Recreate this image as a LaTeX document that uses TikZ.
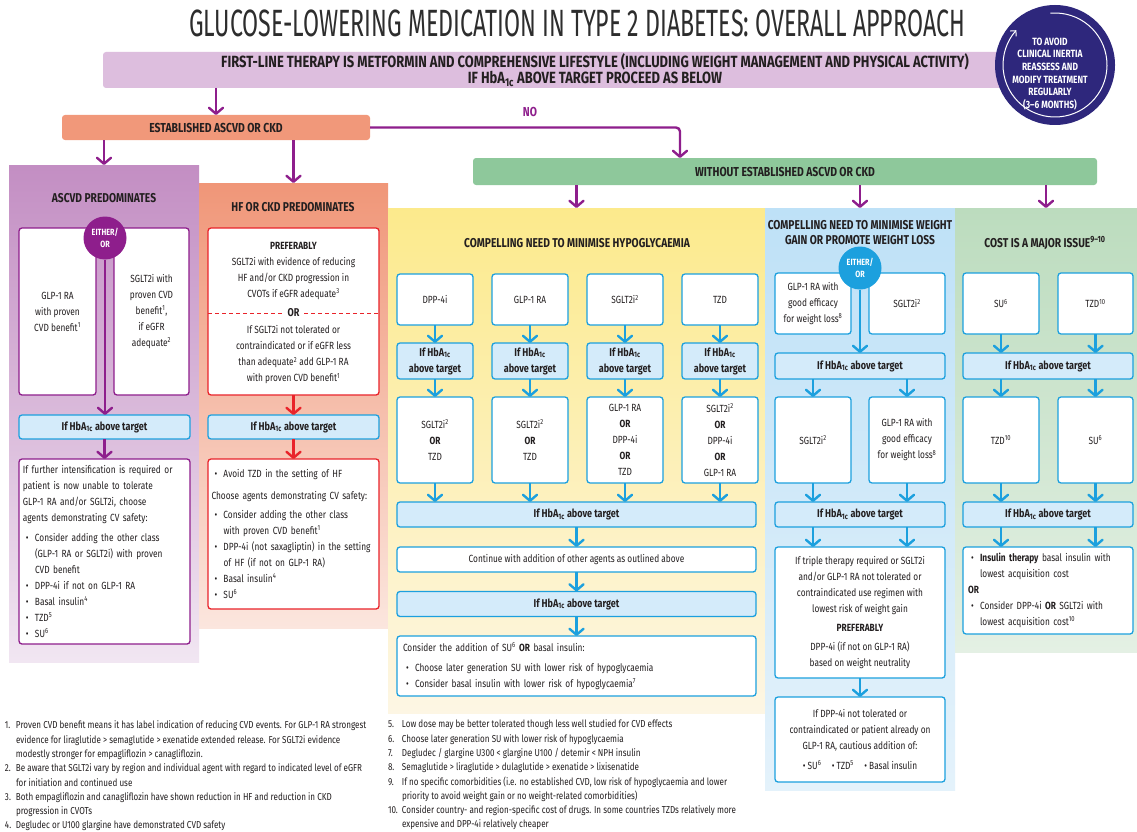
\documentclass[tikz,border=0pt]{standalone}
\usepackage{fontspec}
\setmainfont{Fira Sans}[FakeStretch=0.8]
\newfontfamily\titlefont{Fira Sans}[FakeStretch=0.61]
\usetikzlibrary{arrows.meta, positioning}

\definecolor{PurpleLine}{RGB}{142,30,140}
\definecolor{Lavender}{RGB}{221,190,222}
\definecolor{Salmon}{RGB}{241,152,122}
\definecolor{Mint}{RGB}{142,200,155}
\definecolor{Navy}{RGB}{46,39,124}
\definecolor{CyanLine}{RGB}{28,160,222}
\definecolor{PaleCyan}{RGB}{212,235,250}
\definecolor{RedLine}{RGB}{233,35,42}
\definecolor{TextDark}{RGB}{35,31,32}
\definecolor{TitleGray}{RGB}{45,45,45}
\definecolor{AscvdTop}{RGB}{195,142,195}
\definecolor{AscvdBot}{RGB}{241,230,242}
\definecolor{HfTop}{RGB}{240,150,120}
\definecolor{HfBot}{RGB}{251,230,222}
\definecolor{HypoTop}{RGB}{252,234,140}
\definecolor{HypoBot}{RGB}{253,246,228}
\definecolor{WeightTop}{RGB}{190,225,247}
\definecolor{WeightBot}{RGB}{228,242,251}
\definecolor{CostTop}{RGB}{188,220,190}
\definecolor{CostBot}{RGB}{228,240,228}

\newcommand{\hba}{HbA\textsubscript{1c}}
\newcommand{\sups}[1]{\textsuperscript{#1}}
\newcommand{\bul}{\hspace*{3pt}\makebox[9pt][l]{\textbullet}}
\newcommand{\ind}{\hspace*{12pt}}
\newcommand{\fnum}[2][11pt]{\makebox[#1][l]{#2}}
\newcommand{\boxtext}{\fontsize{10.4}{16}\selectfont}
\newcommand{\boxbold}{\bfseries\fontsize{11.3}{16}\selectfont}

\begin{document}
\begin{tikzpicture}[x=1pt, y=-1pt]
    % settings for the whole chart
    \tikzset{
      every node/.style={text=TextDark, inner sep=0pt, outer sep=0pt},
      arrP/.style={draw=PurpleLine, line width=2.4pt, -{Straight Barb[length=6pt, width=14pt, round]}},
      arrB/.style={arrP, draw=CyanLine},
      arrR/.style={arrP, draw=RedLine},
      banner/.style={rounded corners=3pt, align=center, font=\bfseries\fontsize{13}{15}\selectfont},
      panel/.style={},
      head/.style={font=\bfseries\fontsize{12.8}{15}\selectfont, align=center},
      wbox/.style={draw, fill=white, line width=1.3pt, rounded corners=3pt, align=center, font=\boxtext},
      pbox/.style={wbox, draw=PurpleLine},
      rbox/.style={wbox, draw=RedLine},
      bbox/.style={wbox, draw=CyanLine},
      hbox/.style={bbox, fill=PaleCyan, font=\boxbold},
      either/.style={circle, minimum size=43pt, align=center, text=white, font=\bfseries\fontsize{9}{12}\selectfont},
    }

    \path[use as bounding box, fill=white] (0,0) rectangle (1137,832);

    % coloured panels
    \node[panel, minimum width=190pt, minimum height=497pt, top color=AscvdTop, bottom color=AscvdBot] (ascvdP) at (104,413.5) {};
    \node[panel, minimum width=189pt, minimum height=445pt, top color=HfTop, bottom color=HfBot] (hfP) at (293.5,405.5) {};
    \node[panel, minimum width=377pt, minimum height=505pt, top color=HypoTop, bottom color=HypoBot] (hypoP) at (576.5,460.5) {};
    \node[panel, minimum width=190pt, minimum height=582pt, top color=WeightTop, bottom color=WeightBot] (weightP) at (860,499) {};
    \node[panel, minimum width=182pt, minimum height=444pt, top color=CostTop, bottom color=CostBot] (costP) at (1046,430) {};

    % heading rows
    \node[font=\titlefont\fontsize{38}{40}\selectfont, text=TitleGray] (title) at (577,23)
      {GLUCOSE-LOWERING MEDICATION IN TYPE 2 DIABETES: OVERALL APPROACH};
    \node[banner, fill=Lavender, minimum width=984pt, minimum height=36pt, font=\bfseries\fontsize{16.2}{14.5}\selectfont] (firstline) at (595,70)
      {FIRST-LINE THERAPY IS METFORMIN AND COMPREHENSIVE LIFESTYLE (INCLUDING WEIGHT MANAGEMENT AND PHYSICAL ACTIVITY)\\IF \hba{} ABOVE TARGET PROCEED AS BELOW};
    \node[circle, fill=Navy, minimum size=120pt] (inertia) at (1055,65) {};
    \draw[white, line width=1pt, -{Straight Barb[length=4pt, width=8pt]}]
      (inertia.center) ++(-95:52) arc[start angle=-95, end angle=222, radius=52];
    \node[font=\bfseries\fontsize{10.5}{12.6}\selectfont, text=white, align=center] (inertiaTxt) at (1050,74)
      {TO AVOID\\CLINICAL INERTIA\\REASSESS AND\\MODIFY TREATMENT\\REGULARLY\\(3--6 MONTHS)};

    \node[banner, fill=Salmon, minimum width=308pt, minimum height=25pt] (estab) at (216,127.5) {ESTABLISHED ASCVD OR CKD};
    \node[banner, fill=Mint, minimum width=624pt, minimum height=27pt] (without) at (785,171.5) {WITHOUT ESTABLISHED ASCVD OR CKD};
    \node[font=\bfseries\fontsize{13}{15}\selectfont, text=PurpleLine] (no) at (530,112) {NO};
    \coordinate (noturn) at (680,127.5);

    \draw[arrP] (firstline.south -| estab) -- (estab.north);
    \draw[arrP] (estab.south -| ascvdP) -- (ascvdP.north);
    \draw[arrP] (estab.south -| hfP) -- (hfP.north);
    \draw[arrP, rounded corners=4pt] (estab.east) -- (noturn) -- (noturn |- without.north);
    \draw[arrP] (without.south -| hypoP) -- (hypoP.north);
    \draw[arrP] (without.south -| weightP) -- (weightP.north);
    \draw[arrP] (without.south -| costP) -- (costP.north);

    % ASCVD predominates
    \node[head] (ascvdT) at (104,198) {ASCVD PREDOMINATES};
    \node[pbox, minimum width=77pt, minimum height=167pt] (glpA) at (57.5,311.5) {GLP-1 RA\\with proven\\CVD benefit\sups{1}};
    \node[pbox, minimum width=75pt, minimum height=167pt] (sglA) at (151.5,311.5) {SGLT2i with\\proven CVD\\benefit\sups{1},\\if eGFR\\adequate\sups{2}};
    \node[either, fill=PurpleLine] (eitherA) at (105,238) {EITHER/\\OR};
    \node[hbox, minimum width=171pt, minimum height=24pt] (hbA) at (104.5,427) {If \hba{} above target};
    \node[pbox, minimum width=171pt, minimum height=185pt, text width=163pt, align=left] (ascvdNext) at (104.5,551.5)
      {If further intensification is required or\\patient is now unable to tolerate\\GLP-1 RA and/or SGLT2i, choose\\agents demonstrating CV safety:\\[4pt]
       \bul Consider adding the other class\\\ind (GLP-1 RA or SGLT2i) with proven\\\ind CVD benefit\\
       \bul DPP-4i if not on GLP-1 RA\\\bul Basal insulin\sups{4}\\\bul TZD\sups{5}\\\bul SU\sups{6}};
    \path[every edge/.style={arrP}] (eitherA.south) edge (eitherA.south |- hbA.north)
                                    (hbA) edge (ascvdNext);

    % HF or CKD predominates
    \node[head] (hfT) at (293,207) {HF OR CKD PREDOMINATES};
    \node[rbox, minimum width=171pt, minimum height=167pt] (hfPref) at (293.5,311.5) {};
    \node[font=\boxtext, align=center] (hfPrefA) at (293.5,271)
      {\textbf{PREFERABLY}\\SGLT2i with evidence of reducing\\HF and/or CKD progression in\\CVOTs if eGFR adequate\sups{3}};
    \node[font=\boxbold, inner xsep=5pt] (hfOr) at (293.5,313) {OR};
    \node[font=\boxtext, align=center] (hfPrefB) at (293.5,355)
      {If SGLT2i not tolerated or\\contraindicated or if eGFR less\\than adequate\sups{2} add GLP-1 RA\\with proven CVD benefit\sups{1}};
    \draw[RedLine, line width=1pt, dash pattern=on 4pt off 3pt] (hfPref.west |- hfOr) -- (hfOr.west);
    \draw[RedLine, line width=1pt, dash pattern=on 4pt off 3pt] (hfOr.east) -- (hfPref.east |- hfOr);
    \node[hbox, minimum width=171pt, minimum height=24pt] (hbH) at (293.5,427) {If \hba{} above target};
    \node[rbox, minimum width=171pt, minimum height=150pt, text width=164pt, align=left] (hfNext) at (293.5,534)
      {\bul Avoid TZD in the setting of HF\\[6pt]Choose agents demonstrating CV safety:\\[3pt]
       \bul Consider adding the other class\\\ind with proven CVD benefit\sups{1}\\
       \bul DPP-4i (not saxagliptin) in the setting\\\ind of HF (if not on GLP-1 RA)\\
       \bul Basal insulin\sups{4}\\\bul SU\sups{6}};
    \path[every edge/.style={arrR}] (hfPref) edge (hbH) (hbH) edge (hfNext);

    % minimise hypoglycaemia
    \node[head] (hypoT) at (577,243) {COMPELLING NEED TO MINIMISE HYPOGLYCAEMIA};
    \node[bbox, minimum width=76pt, minimum height=51pt] (d1) at (435,299.5) {DPP-4i};
    \node[bbox, minimum width=76pt, minimum height=51pt, right=19pt of d1] (d2) {GLP-1 RA};
    \node[bbox, minimum width=76pt, minimum height=51pt, right=19pt of d2] (d3) {SGLT2i\sups{2}};
    \node[bbox, minimum width=76pt, minimum height=51pt, right=19pt of d3] (d4) {TZD};
    \node[hbox, minimum width=76pt, minimum height=36pt, below=18pt of d1] (h1) {If \hba\\above target};
    \node[hbox, minimum width=76pt, minimum height=36pt, below=18pt of d2] (h2) {If \hba\\above target};
    \node[hbox, minimum width=76pt, minimum height=36pt, below=18pt of d3] (h3) {If \hba\\above target};
    \node[hbox, minimum width=76pt, minimum height=36pt, below=18pt of d4] (h4) {If \hba\\above target};
    \node[bbox, minimum width=76pt, minimum height=86pt, below=18pt of h1] (s1) {SGLT2i\sups{2}\\\textbf{OR}\\TZD};
    \node[bbox, minimum width=76pt, minimum height=86pt, below=18pt of h2] (s2) {SGLT2i\sups{2}\\\textbf{OR}\\TZD};
    \node[bbox, minimum width=76pt, minimum height=86pt, below=18pt of h3] (s3) {GLP-1 RA\\\textbf{OR}\\DPP-4i\\\textbf{OR}\\TZD};
    \node[bbox, minimum width=76pt, minimum height=86pt, below=18pt of h4] (s4) {SGLT2i\sups{2}\\\textbf{OR}\\DPP-4i\\\textbf{OR}\\GLP-1 RA};
    \node[hbox, minimum width=359pt, minimum height=25pt] (hyHb1) at (576.5,514.5) {If \hba{} above target};
    \node[bbox, minimum width=359pt, minimum height=25pt] (contin) at (576.5,559.5) {Continue with addition of other agents as outlined above};
    \node[hbox, minimum width=359pt, minimum height=25pt] (hyHb2) at (576.5,604) {If \hba{} above target};
    \node[bbox, minimum width=359pt, minimum height=60pt, text width=347pt, align=left] (hyLast) at (576.5,666)
      {Consider the addition of SU\sups{6} \textbf{OR} basal insulin:\\[4pt]
       \bul Choose later generation SU with lower risk of hypoglycaemia\\
       \bul Consider basal insulin with lower risk of hypoglycaemia\sups{7}};
    \path[every edge/.style={arrB}]
          (d1) edge (h1) (h1) edge (s1) (s1) edge (s1 |- hyHb1.north)
          (d2) edge (h2) (h2) edge (s2) (s2) edge (s2 |- hyHb1.north)
          (d3) edge (h3) (h3) edge (s3) (s3) edge (s3 |- hyHb1.north)
          (d4) edge (h4) (h4) edge (s4) (s4) edge (s4 |- hyHb1.north)
          (hyHb1) edge (contin) (contin) edge (hyHb2) (hyHb2) edge (hyLast);

    % minimise weight gain
    \node[head] (weightT) at (860,232.5) {COMPELLING NEED TO MINIMISE WEIGHT\\GAIN OR PROMOTE WEIGHT LOSS};
    \node[bbox, minimum width=76pt, minimum height=61pt] (wl1) at (813,303.5) {GLP-1 RA with\\good efficacy\\for weight loss\sups{8}};
    \node[bbox, minimum width=76pt, minimum height=61pt] (wl2) at (907,303.5) {SGLT2i\sups{2}};
    \node[either, fill=CyanLine] (eitherW) at (860,268) {EITHER/\\OR};
    \node[hbox, minimum width=170pt, minimum height=26pt] (hbW1) at (860,366) {If \hba{} above target};
    \node[bbox, minimum width=76pt, minimum height=86pt] (wl3) at (813,440) {SGLT2i\sups{2}};
    \node[bbox, minimum width=76pt, minimum height=86pt] (wl4) at (907,440) {GLP-1 RA with\\good efficacy\\for weight loss\sups{8}};
    \node[hbox, minimum width=170pt, minimum height=25pt] (hbW2) at (860,514.5) {If \hba{} above target};
    \node[bbox, minimum width=170pt, minimum height=131pt] (wTriple) at (860,612.5)
      {If triple therapy required or SGLT2i\\and/or GLP-1 RA not tolerated or\\contraindicated use regimen with\\lowest risk of weight gain\\[3pt]
       \textbf{PREFERABLY}\\[3pt]DPP-4i (if not on GLP-1 RA)\\based on weight neutrality};
    \node[bbox, minimum width=170pt, minimum height=85pt] (wDpp) at (860,739.5)
      {If DPP-4i not tolerated or\\contraindicated or patient already on\\GLP-1 RA, cautious addition of:\\[4pt]
       \textbullet\ SU\sups{6}\quad\textbullet\ TZD\sups{5}\quad\textbullet\ Basal insulin};
    \path[every edge/.style={arrB}]
          (eitherW.south) edge (eitherW.south |- hbW1.north)
          (hbW1.south -| wl3) edge (wl3) (hbW1.south -| wl4) edge (wl4)
          (wl3) edge (wl3 |- hbW2.north) (wl4) edge (wl4 |- hbW2.north)
          (hbW2.south -| wl3) edge (wl3 |- wTriple.north) (hbW2.south -| wl4) edge (wl4 |- wTriple.north)
          (wTriple) edge (wDpp);

    % cost
    \node[head] (costT) at (1045,243) {COST IS A MAJOR ISSUE\sups{9--10}};
    \node[bbox, minimum width=76pt, minimum height=61pt] (c1) at (1001,303.5) {SU\sups{6}};
    \node[bbox, minimum width=75pt, minimum height=61pt] (c2) at (1095.5,303.5) {TZD\sups{10}};
    \node[hbox, minimum width=170pt, minimum height=26pt] (hbC1) at (1048,366) {If \hba{} above target};
    \node[bbox, minimum width=76pt, minimum height=86pt] (c3) at (1001,440) {TZD\sups{10}};
    \node[bbox, minimum width=75pt, minimum height=86pt] (c4) at (1095.5,440) {SU\sups{6}};
    \node[hbox, minimum width=170pt, minimum height=25pt] (hbC2) at (1048,514.5) {If \hba{} above target};
    \node[bbox, minimum width=170pt, minimum height=87pt, text width=160pt, align=left] (cLast) at (1048,590.5)
      {\bul\textbf{Insulin therapy} basal insulin with\\\ind lowest acquisition cost\\\textbf{OR}\\
       \bul Consider DPP-4i \textbf{OR} SGLT2i with\\\ind lowest acquisition cost\sups{10}};
    \path[every edge/.style={arrB}]
          (c1) edge (c1 |- hbC1.north) (c2) edge (c2 |- hbC1.north)
          (hbC1.south -| c3) edge (c3) (hbC1.south -| c4) edge (c4)
          (c3) edge (c3 |- hbC2.north) (c4) edge (c4 |- hbC2.north)
          (hbC2.south -| c3) edge (c3 |- cLast.north) (hbC2.south -| c4) edge (c4 |- cLast.north);

    % footnotes
    \node[anchor=north west, align=left, font=\fontsize{10.1}{14.3}\selectfont] (notesL) at (5,721)
      {\fnum{1.}Proven CVD benefit means it has label indication of reducing CVD events. For GLP-1 RA strongest\\
       \fnum{}evidence for liraglutide > semaglutide > exenatide extended release. For SGLT2i evidence\\
       \fnum{}modestly stronger for empagliflozin > canagliflozin.\\
       \fnum{2.}Be aware that SGLT2i vary by region and individual agent with regard to indicated level of eGFR\\
       \fnum{}for initiation and continued use\\
       \fnum{3.}Both empagliflozin and canagliflozin have shown reduction in HF and reduction in CKD\\
       \fnum{}progression in CVOTs\\
       \fnum{4.}Degludec or U100 glargine have demonstrated CVD safety};
    \node[anchor=north west, align=left, font=\fontsize{10.1}{14.3}\selectfont] (notesR) at (388,720)
      {\fnum[14pt]{5.}Low dose may be better tolerated though less well studied for CVD effects\\
       \fnum[14pt]{6.}Choose later generation SU with lower risk of hypoglycaemia\\
       \fnum[14pt]{7.}Degludec / glargine U300 < glargine U100 / detemir < NPH insulin\\
       \fnum[14pt]{8.}Semaglutide > liraglutide > dulaglutide > exenatide > lixisenatide\\
       \fnum[14pt]{9.}If no specific comorbidities (i.e. no established CVD, low risk of hypoglycaemia and lower\\
       \fnum[14pt]{}priority to avoid weight gain or no weight-related comorbidities)\\
       \fnum[14pt]{10.}Consider country- and region-specific cost of drugs. In some countries TZDs relatively more\\
       \fnum[14pt]{}expensive and DPP-4i relatively cheaper};

  \end{tikzpicture}
\end{document}
